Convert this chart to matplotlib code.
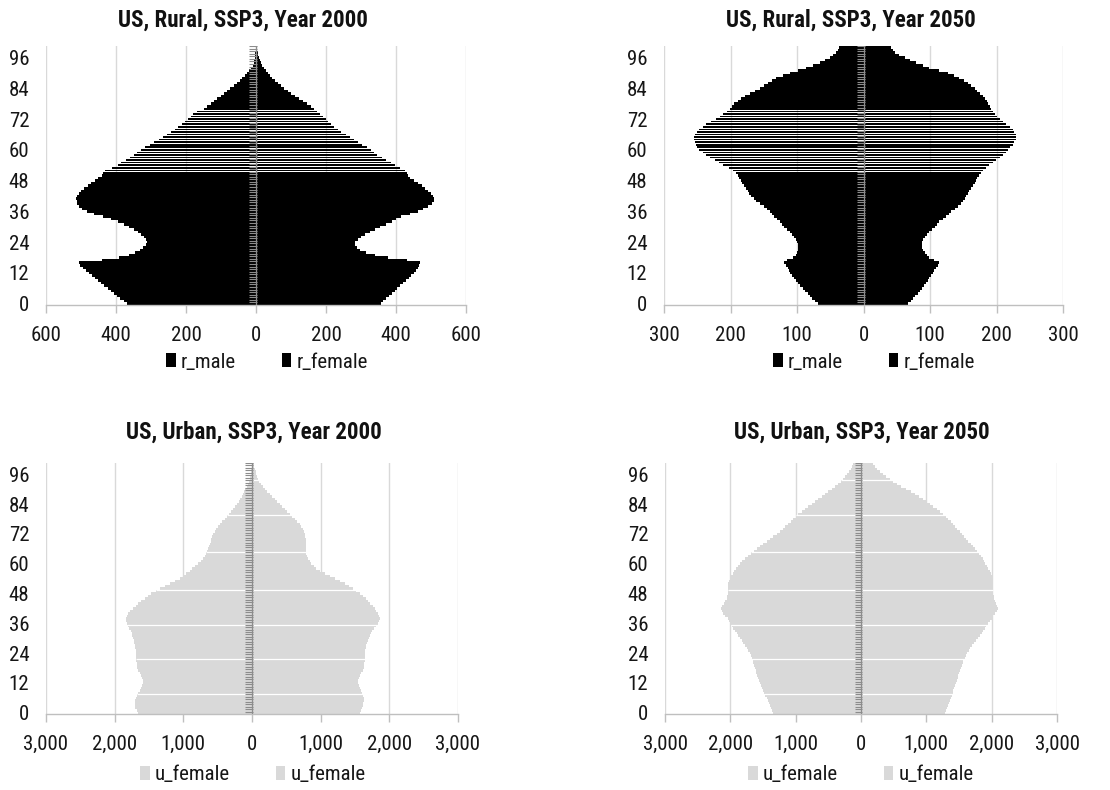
import numpy as np
import matplotlib
matplotlib.use("Agg")
import matplotlib.pyplot as plt
from matplotlib.patches import Patch
from matplotlib.ticker import FuncFormatter, MultipleLocator
from matplotlib import font_manager

# Single-year ages 0..100
ages = np.arange(0, 101)
age_ticks = list(range(0, 97, 12))

# Rural population by single year of age (thousands)
rural_male_2000 = [
    368, 378, 388, 397, 406, 415, 424, 433, 442, 451,
    460, 469, 478, 487, 495, 502, 505, 440, 390, 362,
    345, 332, 322, 315, 312, 314, 320, 328, 338, 349,
    362, 378, 395, 415, 438, 462, 482, 496, 505, 510,
    512, 513, 511, 506, 499, 490, 480, 470, 460, 450,
    441, 436, 430, 410, 395, 385, 372, 360, 349, 339,
    329, 316, 303, 290, 278, 266, 254, 243, 232, 222,
    212, 203, 195, 187, 179, 170, 150, 140, 130, 120,
    111, 101, 92, 82, 73, 64, 55, 47, 39, 31,
    25, 19, 14, 10, 7, 5, 4, 3, 2, 1,
    1]
rural_female_2000 = [
    356, 364, 372, 380, 388, 396, 404, 412, 420, 428,
    436, 443, 450, 457, 463, 467, 468, 430, 378, 340,
    315, 298, 288, 284, 284, 290, 300, 312, 326, 340,
    355, 370, 388, 400, 415, 440, 462, 478, 492, 502,
    508, 508, 505, 499, 492, 484, 475, 463, 451, 441,
    433, 430, 427, 412, 398, 385, 372, 359, 347, 337,
    328, 316, 304, 292, 280, 268, 256, 244, 233, 224,
    215, 207, 199, 191, 183, 175, 166, 157, 147, 135,
    123, 112, 101, 90, 80, 71, 62, 54, 47, 40,
    34, 28, 23, 18, 14, 11, 9, 7, 5, 3,
    2]
rural_male_2050 = [
    69, 73, 77, 80, 84, 88, 91, 95, 99, 102,
    105, 108, 110, 112, 114, 116, 119, 115, 106, 102,
    100, 99, 99, 99, 100, 102, 104, 107, 111, 115,
    119, 122, 126, 130, 134, 137, 141, 145, 149, 155,
    161, 165, 169, 172, 174, 177, 179, 182, 184, 187,
    189, 192, 196, 203, 211, 218, 224, 231, 237, 242,
    247, 250, 252, 254, 255, 255, 254, 251, 247, 242,
    237, 230, 222, 216, 211, 206, 201, 197, 194, 189,
    184, 178, 171, 163, 156, 150, 144, 138, 131, 121,
    111, 98, 86, 76, 66, 58, 51, 46, 41, 39,
    37]
rural_female_2050 = [
    67, 71, 75, 78, 82, 85, 88, 91, 94, 97,
    99, 102, 104, 106, 109, 112, 113, 106, 99, 95,
    92, 90, 88, 88, 88, 90, 92, 95, 99, 103,
    107, 110, 114, 119, 124, 128, 132, 137, 142, 146,
    149, 152, 154, 157, 159, 162, 164, 167, 169, 171,
    173, 176, 179, 184, 189, 194, 199, 205, 210, 214,
    217, 221, 225, 227, 229, 229, 229, 227, 225, 220,
    215, 210, 205, 201, 197, 194, 192, 190, 187, 185,
    182, 179, 175, 171, 167, 162, 157, 151, 144, 136,
    127, 113, 99, 89, 79, 70, 62, 54, 47, 44,
    42]

# Urban population by single year of age (thousands)
urban_male_2000 = [
    1659, 1680, 1700, 1707, 1705, 1700, 1693, 1675, 1655, 1634,
    1615, 1598, 1586, 1590, 1600, 1610, 1630, 1655, 1673, 1678,
    1680, 1683, 1683, 1683, 1683, 1690, 1698, 1707, 1715, 1723,
    1731, 1742, 1753, 1765, 1785, 1802, 1819, 1830, 1838, 1825,
    1804, 1770, 1731, 1695, 1659, 1612, 1562, 1515, 1465, 1405,
    1343, 1270, 1198, 1125, 1052, 1000, 955, 910, 868, 826,
    786, 748, 713, 688, 664, 652, 640, 628, 616, 604,
    592, 580, 567, 543, 519, 495, 470, 434, 398, 366,
    335, 305, 276, 247, 218, 194, 170, 150, 131, 114,
    97, 78, 58, 46, 34, 26, 19, 14, 10, 7,
    5]
urban_female_2000 = [
    1567, 1590, 1605, 1615, 1622, 1627, 1630, 1618, 1605, 1591,
    1572, 1555, 1542, 1550, 1558, 1567, 1590, 1612, 1630, 1634,
    1637, 1639, 1639, 1639, 1639, 1648, 1656, 1664, 1677, 1690,
    1702, 1718, 1735, 1751, 1780, 1808, 1833, 1847, 1858, 1848,
    1833, 1810, 1785, 1755, 1722, 1688, 1654, 1610, 1567, 1520,
    1470, 1410, 1348, 1275, 1203, 1130, 1057, 995, 936, 898,
    863, 838, 815, 803, 791, 786, 781, 781, 781, 781,
    781, 774, 766, 754, 742, 718, 694, 658, 621, 585,
    548, 512, 475, 439, 403, 366, 330, 294, 257, 220,
    184, 155, 126, 106, 87, 75, 63, 53, 44, 36,
    29]
urban_male_2050 = [
    1343, 1360, 1377, 1394, 1411, 1428, 1445, 1462, 1479, 1496,
    1513, 1530, 1547, 1561, 1574, 1588, 1600, 1612, 1624, 1636,
    1648, 1659, 1672, 1686, 1700, 1726, 1751, 1777, 1802, 1828,
    1853, 1879, 1904, 1930, 1952, 1974, 1996, 2019, 2042, 2075,
    2109, 2127, 2145, 2122, 2099, 2078, 2058, 2050, 2042, 2037,
    2032, 2032, 2032, 2020, 2007, 1987, 1966, 1940, 1915, 1884,
    1853, 1815, 1777, 1733, 1690, 1644, 1598, 1547, 1496, 1445,
    1394, 1343, 1292, 1246, 1200, 1156, 1113, 1075, 1037, 998,
    960, 909, 858, 807, 756, 705, 654, 602, 551, 500,
    449, 398, 347, 309, 271, 240, 209, 183, 158, 137,
    117]
urban_female_2050 = [
    1287, 1304, 1321, 1338, 1350, 1362, 1374, 1387, 1401, 1414,
    1428, 1441, 1455, 1467, 1479, 1491, 1503, 1515, 1527, 1541,
    1554, 1568, 1585, 1602, 1619, 1648, 1676, 1705, 1736, 1766,
    1797, 1823, 1848, 1874, 1896, 1918, 1940, 1971, 2002, 2028,
    2053, 2079, 2104, 2086, 2068, 2053, 2037, 2032, 2027, 2022,
    2017, 2022, 2027, 2022, 2017, 2002, 1986, 1968, 1950, 1925,
    1899, 1882, 1864, 1839, 1813, 1780, 1746, 1713, 1680, 1644,
    1608, 1575, 1542, 1509, 1476, 1445, 1414, 1376, 1338, 1295,
    1251, 1205, 1159, 1108, 1057, 1006, 955, 891, 827, 758,
    689, 618, 546, 495, 444, 388, 332, 286, 240, 210,
    179]

titles = ["US, Rural, SSP3, Year 2000", "US, Rural, SSP3, Year 2050",
          "US, Urban, SSP3, Year 2000", "US, Urban, SSP3, Year 2050"]
legend_labels = [("r_male", "r_female"), ("r_male", "r_female"),
                 ("u_female", "u_female"), ("u_female", "u_female")]


def pick_narrow_font():
    """Return (family, stretch, is_narrow) for the narrowest sans face available."""
    faces = font_manager.fontManager.ttflist
    names = {f.name for f in faces}
    for name in ("Liberation Sans Narrow", "Arial Narrow", "Roboto Condensed",
                 "Open Sans Condensed", "Noto Sans Condensed",
                 "DejaVu Sans Condensed", "Noto Sans SemiCondensed"):
        if name in names:
            return name, "normal", True
    for pref in ("Noto Sans", "DejaVu Sans", "Open Sans", "Roboto"):
        for f in faces:
            if f.name == pref and f.stretch in ("condensed", "semi-condensed",
                                                "extra-condensed"):
                return pref, f.stretch, True
    if "Liberation Sans" in names:
        return "Liberation Sans", "normal", False
    return "DejaVu Sans", "normal", False


FONT, STRETCH, NARROW = pick_narrow_font()
plt.rcParams["font.family"] = [FONT, "DejaVu Sans"]
plt.rcParams["font.stretch"] = STRETCH

TICK_FS = 15 if NARROW else 13
TITLE_FS = 16.5 if NARROW else 14.5

W, H = 1110, 790
fig = plt.figure(figsize=(W / 100, H / 100), dpi=100)


def fx(px):
    return px / W


def fy(py):
    return 1 - py / H


RURAL = "#000000"
URBAN = "#d9d9d9"
GRID = "#d9d9d9"
AXIS = "#bfbfbf"
CAT_TICK = "#8c8c8c"
TEXT = "#161616"

# Bar thickness per age row: the rural 51-75 rows print with a thin white
# seam between them, the urban rows only at a few scattered seams.
rural_row_height = np.where((ages >= 51) & (ages <= 75), 0.62, 1.0)
urban_row_height = np.ones_like(ages, dtype=float)
urban_seams = [7.5, 21.5, 35.5, 49.5, 64.5, 79.5, 93.5]

panels = [
    dict(box=(46, 46, 466, 305), male=rural_male_2000, female=rural_female_2000,
         lim=600, step=200, color=RURAL, rows=rural_row_height, seams=[],
         title_at=(243, 20), legend_at=(267, 362)),
    dict(box=(664, 46, 1063, 305), male=rural_male_2050, female=rural_female_2050,
         lim=300, step=100, color=RURAL, rows=rural_row_height, seams=[],
         title_at=(851, 20), legend_at=(874, 362)),
    dict(box=(46, 463, 458, 714), male=urban_male_2000, female=urban_female_2000,
         lim=3000, step=1000, color=URBAN, rows=urban_row_height, seams=urban_seams,
         title_at=(254, 432), legend_at=(253, 775)),
    dict(box=(665, 463, 1057, 714), male=urban_male_2050, female=urban_female_2050,
         lim=3000, step=1000, color=URBAN, rows=urban_row_height, seams=urban_seams,
         title_at=(862, 432), legend_at=(861, 775)),
]

thousands = FuncFormatter(lambda v, _: f"{abs(v):,.0f}")
boundaries = np.arange(-0.5, 101, 1.0)

for p, title, labels in zip(panels, titles, legend_labels):
    x0, y0, x1, y1 = p["box"]
    ax = fig.add_axes([fx(x0), fy(y1), (x1 - x0) / W, (y1 - y0) / H])

    male = np.asarray(p["male"], dtype=float)
    female = np.asarray(p["female"], dtype=float)
    ax.barh(ages, -male, height=p["rows"], color=p["color"], linewidth=0, zorder=2)
    ax.barh(ages, female, height=p["rows"], color=p["color"], linewidth=0, zorder=2)

    # thin white seams across the bars
    for s in p["seams"]:
        lo, hi = int(np.floor(s)), int(np.ceil(s))
        ax.hlines(s, -max(male[lo], male[hi]), max(female[lo], female[hi]),
                  color="white", linewidth=0.9, zorder=2.5)

    ax.set_xlim(-p["lim"], p["lim"])
    ax.set_ylim(-0.5, 100.5)
    ax.xaxis.set_major_locator(MultipleLocator(p["step"]))
    ax.xaxis.set_major_formatter(thousands)
    ax.set_yticks(age_ticks)

    ax.grid(axis="x", color=GRID, linewidth=1.0, zorder=0)
    ax.grid(axis="y", visible=False)
    ax.set_axisbelow(True)
    for side in ("top", "right", "left"):
        ax.spines[side].set_visible(False)
    ax.spines["bottom"].set_color(AXIS)
    ax.spines["bottom"].set_linewidth(1.0)
    ax.tick_params(axis="x", length=6, width=1.0, color=AXIS,
                   labelsize=TICK_FS, pad=9, labelcolor=TEXT)
    ax.tick_params(axis="y", length=0, labelsize=TICK_FS, pad=12,
                   labelcolor=TEXT)

    # category axis at zero with a tick mark between every age
    ytr = ax.get_yaxis_transform()
    ax.hlines(boundaries, 0.5 - 0.0165, 0.5 + 0.003, transform=ytr,
              color=CAT_TICK, linewidth=0.8, zorder=3)
    ax.axvline(0, color=CAT_TICK, linewidth=0.9, zorder=3)

    fig.text(fx(p["title_at"][0]), fy(p["title_at"][1]), title,
             ha="center", va="center", fontsize=TITLE_FS, fontweight="bold",
             color="#111111")

    handles = [Patch(facecolor=p["color"], edgecolor="none"),
               Patch(facecolor=p["color"], edgecolor="none")]
    ax.legend(handles, labels, loc="center",
              bbox_to_anchor=(fx(p["legend_at"][0]), fy(p["legend_at"][1])),
              bbox_transform=fig.transFigure, ncol=2, frameon=False,
              fontsize=TICK_FS, handlelength=0.45, handleheight=0.65,
              handletextpad=0.25, columnspacing=2.2, borderpad=0,
              borderaxespad=0, labelcolor=TEXT)

fig.savefig("out.png", dpi=100, facecolor="white")
